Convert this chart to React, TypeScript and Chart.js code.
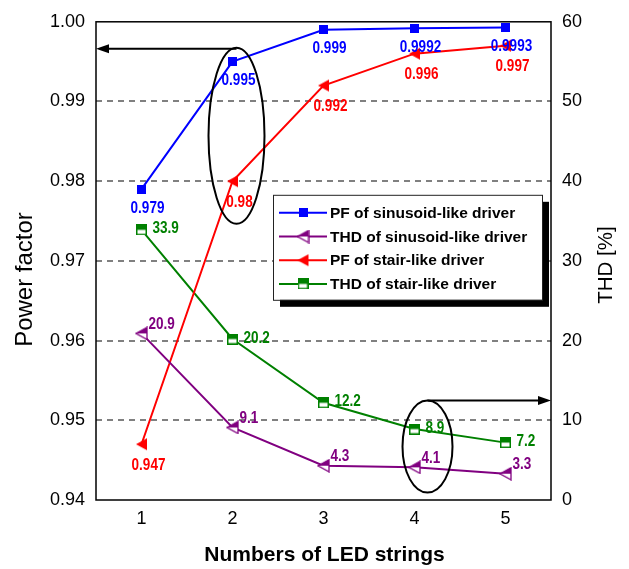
import React, { useEffect, useRef } from 'react';
import { Chart, registerables } from 'chart.js';

Chart.register(...registerables);

// ---------- data ----------
const categories = ['1', '2', '3', '4', '5'];
const pfSinusoid = [0.979, 0.995, 0.999, 0.9992, 0.9993];
const thdSinusoid = [20.9, 9.1, 4.3, 4.1, 3.3];
const pfStair = [0.947, 0.98, 0.992, 0.996, 0.997];
const thdStair = [33.9, 20.2, 12.2, 8.9, 7.2];
const pfTicks = [0.94, 0.95, 0.96, 0.97, 0.98, 0.99, 1.0];
const thdTicks = [0, 10, 20, 30, 40, 50, 60];
const seriesNames = [
  'PF of sinusoid-like driver',
  'THD of sinusoid-like driver',
  'PF of stair-like driver',
  'THD of stair-like driver',
];

// ---------- styles ----------
const BLUE = '#0000ff';
const PURPLE = '#800080';
const RED = '#ff0000';
const GREEN = '#008000';
const FONT = "'Liberation Sans', Arial, sans-serif";

type MarkerKind = 'square' | 'halfSquare' | 'triangle' | 'halfTriangle';

function makeMarker(kind: MarkerKind, color: string): HTMLCanvasElement {
  const c = document.createElement('canvas');
  const ctx = c.getContext('2d')!;
  if (kind === 'square') {
    c.width = 9; c.height = 9;
    ctx.fillStyle = color;
    ctx.fillRect(0, 0, 9, 9);
  } else if (kind === 'halfSquare') {
    c.width = 11; c.height = 11;
    ctx.fillStyle = '#ffffff';
    ctx.fillRect(0.75, 0.75, 9.5, 9.5);
    ctx.fillStyle = color;
    ctx.fillRect(0.75, 0.75, 9.5, 4.75);
    ctx.strokeStyle = color;
    ctx.lineWidth = 1.5;
    ctx.strokeRect(0.75, 0.75, 9.5, 9.5);
  } else {
    c.width = 13; c.height = 14;
    const tri = () => {
      ctx.beginPath();
      ctx.moveTo(1, 7);
      ctx.lineTo(12, 1);
      ctx.lineTo(12, 13);
      ctx.closePath();
    };
    if (kind === 'triangle') {
      tri();
      ctx.fillStyle = color;
      ctx.fill();
    } else {
      tri();
      ctx.fillStyle = '#ffffff';
      ctx.fill();
      ctx.beginPath();
      ctx.moveTo(1, 7);
      ctx.lineTo(12, 1);
      ctx.lineTo(12, 7);
      ctx.closePath();
      ctx.fillStyle = color;
      ctx.fill();
      tri();
      ctx.strokeStyle = color;
      ctx.lineWidth = 1.3;
      ctx.stroke();
    }
  }
  return c;
}

function drawArrow(ctx: CanvasRenderingContext2D, x1: number, y: number, x2: number) {
  const dir = x2 > x1 ? 1 : -1;
  const headLen = 13;
  ctx.save();
  ctx.strokeStyle = '#000';
  ctx.fillStyle = '#000';
  ctx.lineWidth = 2;
  ctx.beginPath();
  ctx.moveTo(x1, y);
  ctx.lineTo(x2 - dir * headLen, y);
  ctx.stroke();
  ctx.beginPath();
  ctx.moveTo(x2, y);
  ctx.lineTo(x2 - dir * headLen, y - 4.5);
  ctx.lineTo(x2 - dir * headLen, y + 4.5);
  ctx.closePath();
  ctx.fill();
  ctx.restore();
}

const LABEL_SQUEEZE = 0.82;

const decorPlugin = {
  id: 'decor',
  afterDatasetsDraw(chart: any) {
    const ctx: CanvasRenderingContext2D = chart.ctx;
    chart.data.datasets.forEach((ds: any, di: number) => {
      const meta = chart.getDatasetMeta(di);
      const lo = ds.labelStyle;
      meta.data.forEach((pt: any, i: number) => {
        ctx.save();
        ctx.font = `bold 16.5px ${FONT}`;
        ctx.fillStyle = ds.borderColor;
        ctx.textAlign = lo.align;
        ctx.textBaseline = 'middle';
        ctx.translate(pt.x + lo.dx, pt.y + lo.dy);
        ctx.scale(LABEL_SQUEEZE, 1);
        ctx.fillText(String(ds.data[i]), 0, 0);
        ctx.restore();
      });
    });
  },
  afterDraw(chart: any) {
    const ctx: CanvasRenderingContext2D = chart.ctx;
    const { left, right, top, bottom } = chart.chartArea;
    const xs = chart.scales.x;
    const ys = chart.scales.y;
    const ys2 = chart.scales.y2;

    // frame
    ctx.save();
    ctx.strokeStyle = '#000';
    ctx.lineWidth = 1.5;
    ctx.strokeRect(left, top, right - left, bottom - top);
    ctx.restore();

    // ellipses + arrows
    ctx.save();
    ctx.strokeStyle = '#000';
    ctx.lineWidth = 2;
    const e1x = xs.getPixelForValue(1) + 4;
    const e1y = ys.getPixelForValue(0.9857);
    ctx.beginPath();
    ctx.ellipse(e1x, e1y, 28, 88, 0, 0, Math.PI * 2);
    ctx.stroke();
    const e2x = xs.getPixelForValue(3) + 13;
    const e2y = ys2.getPixelForValue(6.7);
    ctx.beginPath();
    ctx.ellipse(e2x, e2y, 25, 46, 0, 0, Math.PI * 2);
    ctx.stroke();
    ctx.restore();
    drawArrow(ctx, e1x, e1y - 87, left);
    drawArrow(ctx, e2x, e2y - 46, right);

    // legend
    const lx = left + 177;
    const ly = top + 173;
    const lw = 269;
    const lh = 105;
    ctx.save();
    ctx.fillStyle = '#000';
    ctx.fillRect(lx + 7, ly + 7, lw, lh);
    ctx.fillStyle = '#fff';
    ctx.fillRect(lx, ly, lw, lh);
    ctx.strokeStyle = '#222';
    ctx.lineWidth = 1;
    ctx.strokeRect(lx + 0.5, ly + 0.5, lw, lh);
    chart.data.datasets.forEach((ds: any, i: number) => {
      const ry = ly + 18 + i * 23.7;
      ctx.strokeStyle = ds.borderColor;
      ctx.lineWidth = 2;
      ctx.beginPath();
      ctx.moveTo(lx + 6, ry);
      ctx.lineTo(lx + 54, ry);
      ctx.stroke();
      const img = ds.pointStyle as HTMLCanvasElement;
      ctx.drawImage(img, lx + 30 - img.width / 2, ry - img.height / 2);
      ctx.fillStyle = '#000';
      ctx.font = `bold 15.5px ${FONT}`;
      ctx.textAlign = 'left';
      ctx.textBaseline = 'middle';
      ctx.fillText(ds.label, lx + 57, ry + 1);
    });
    ctx.restore();

    // axis titles
    ctx.save();
    ctx.fillStyle = '#000';
    ctx.textAlign = 'center';
    ctx.textBaseline = 'alphabetic';
    ctx.font = `24px ${FONT}`;
    ctx.translate(32, 279.5);
    ctx.rotate(-Math.PI / 2);
    ctx.fillText('Power factor', 0, 0);
    ctx.restore();

    ctx.save();
    ctx.fillStyle = '#000';
    ctx.textAlign = 'center';
    ctx.textBaseline = 'alphabetic';
    ctx.font = `20.5px ${FONT}`;
    ctx.translate(612, 265);
    ctx.rotate(-Math.PI / 2);
    ctx.fillText('THD [%]', 0, 0);
    ctx.restore();

    ctx.save();
    ctx.fillStyle = '#000';
    ctx.textAlign = 'center';
    ctx.textBaseline = 'alphabetic';
    ctx.font = `bold 21px ${FONT}`;
    ctx.fillText('Numbers of LED strings', (left + right) / 2 + 1, 561);
    ctx.restore();
  },
};

export default function App() {
  const ref = useRef<HTMLCanvasElement>(null);
  useEffect(() => {
    document.body.style.margin = '0';
    const canvas = ref.current!;
    const mBlue = makeMarker('square', BLUE);
    const mPurple = makeMarker('halfTriangle', PURPLE);
    const mRed = makeMarker('triangle', RED);
    const mGreen = makeMarker('halfSquare', GREEN);

    const common = { borderWidth: 2, tension: 0, fill: false };
    const chart = new Chart(canvas, {
      type: 'line',
      data: {
        labels: categories,
        datasets: [
          {
            ...common, label: seriesNames[0], data: pfSinusoid, yAxisID: 'y',
            borderColor: BLUE, backgroundColor: BLUE, pointStyle: mBlue,
            labelStyle: { dx: 6, dy: 19, align: 'center' },
          } as any,
          {
            ...common, label: seriesNames[1], data: thdSinusoid, yAxisID: 'y2',
            borderColor: PURPLE, backgroundColor: PURPLE, pointStyle: mPurple,
            labelStyle: { dx: 7, dy: -9, align: 'left' },
          } as any,
          {
            ...common, label: seriesNames[2], data: pfStair, yAxisID: 'y',
            borderColor: RED, backgroundColor: RED, pointStyle: mRed,
            labelStyle: { dx: 7, dy: 21, align: 'center' },
          } as any,
          {
            ...common, label: seriesNames[3], data: thdStair, yAxisID: 'y2',
            borderColor: GREEN, backgroundColor: GREEN, pointStyle: mGreen,
            labelStyle: { dx: 11, dy: -1, align: 'left' },
          } as any,
        ],
      },
      options: {
        responsive: false,
        animation: false,
        events: [],
        layout: { padding: { top: 17, left: 0, right: 0, bottom: 0 } },
        plugins: { legend: { display: false }, tooltip: { enabled: false }, title: { display: false } },
        scales: {
          x: {
            type: 'category',
            offset: true,
            grid: { display: false, drawTicks: false },
            border: { display: false },
            ticks: { color: '#000', font: { family: FONT, size: 18 }, padding: 8 },
            afterFit: (s: any) => { s.height = 69; },
          },
          y: {
            type: 'linear',
            position: 'left',
            min: 0.94,
            max: 1.0,
            afterBuildTicks: (s: any) => { s.ticks = pfTicks.map((v) => ({ value: v })); },
            grid: {
              drawTicks: false,
              lineWidth: 2,
              color: (c: any) => (c.tick && (c.tick.value <= 0.9401 || c.tick.value >= 0.9999) ? 'rgba(0,0,0,0)' : '#808080'),
            },
            border: { display: false, dash: [6, 5] },
            ticks: {
              color: '#000', font: { family: FONT, size: 18 }, padding: 11,
              callback: (v: any) => Number(v).toFixed(2),
            },
            afterFit: (s: any) => { s.width = 96; },
          },
          y2: {
            type: 'linear',
            position: 'right',
            min: 0,
            max: 60,
            afterBuildTicks: (s: any) => { s.ticks = thdTicks.map((v) => ({ value: v })); },
            grid: { display: false, drawTicks: false },
            border: { display: false },
            ticks: { color: '#000', font: { family: FONT, size: 18 }, padding: 11 },
            afterFit: (s: any) => { s.width = 78; },
          },
        },
      } as any,
      plugins: [decorPlugin],
    });
    return () => chart.destroy();
  }, []);
  return <canvas ref={ref} width={629} height={569} style={{ display: 'block' }} />;
}
